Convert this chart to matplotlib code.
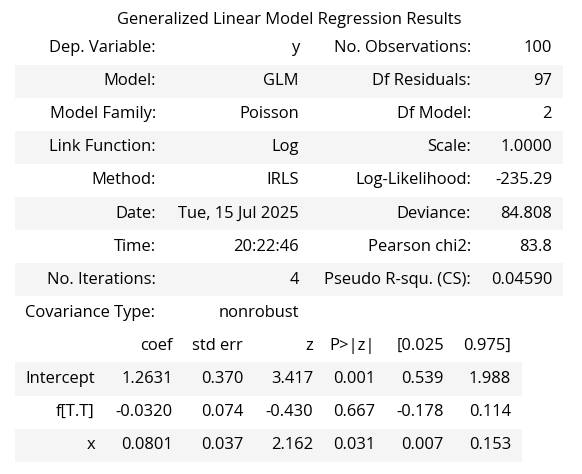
import matplotlib.pyplot as plt
from matplotlib.patches import Rectangle

plt.rcParams['font.family'] = ['Open Sans', 'DejaVu Sans']

# Summary table data
title = "Generalized Linear Model Regression Results"
left_labels = ["Dep. Variable:", "Model:", "Model Family:", "Link Function:",
               "Method:", "Date:", "Time:", "No. Iterations:"]
left_values = ["y", "GLM", "Poisson", "Log", "IRLS", "Tue, 15 Jul 2025",
               "20:22:46", "4"]
right_labels = ["No. Observations:", "Df Residuals:", "Df Model:", "Scale:",
                "Log-Likelihood:", "Deviance:", "Pearson chi2:",
                "Pseudo R-squ. (CS):"]
right_values = ["100", "97", "2", "1.0000", "-235.29", "84.808", "83.8",
                "0.04590"]
cov_label = "Covariance Type:"
cov_value = "nonrobust"

coef_header = ["coef", "std err", "z", "P>|z|", "[0.025", "0.975]"]
coef_names = ["Intercept", "f[T.T]", "x"]
coef_values = [
    ["1.2631", "0.370", "3.417", "0.001", "0.539", "1.988"],
    ["-0.0320", "0.074", "-0.430", "0.667", "-0.178", "0.114"],
    ["0.0801", "0.037", "2.162", "0.031", "0.007", "0.153"],
]

W, H = 582, 474
fig = plt.figure(figsize=(W / 100, H / 100), dpi=100)
ax = fig.add_axes([0, 0, 1, 1])
ax.set_xlim(0, W)
ax.set_ylim(H, 0)
ax.axis('off')

fs = 11.9
band = '#f5f5f5'
ink = '#000000'
row_h = 33.1

ax.text(289, 20, title, ha='center', va='center', fontsize=fs, color=ink)

# first block
y0 = 48
for i in range(len(left_labels)):
    y = y0 + i * row_h
    if i % 2 == 1:
        ax.add_patch(Rectangle((15, y - row_h / 2), 548, row_h, color=band, lw=0))
    ax.text(156, y, left_labels[i], ha='right', va='center', fontsize=fs, color=ink)
    ax.text(299, y, left_values[i], ha='right', va='center', fontsize=fs, color=ink)
    ax.text(471, y, right_labels[i], ha='right', va='center', fontsize=fs, color=ink)
    ax.text(552, y, right_values[i], ha='right', va='center', fontsize=fs, color=ink)

y = y0 + len(left_labels) * row_h
ax.text(25, y, cov_label, ha='left', va='center', fontsize=fs, color=ink)
ax.text(299, y, cov_value, ha='right', va='center', fontsize=fs, color=ink)

# coefficient block
col_right = [173, 243, 313, 375, 444, 511]
yh = y + row_h
for j, h in enumerate(coef_header):
    ax.text(col_right[j], yh, h, ha='right', va='center', fontsize=fs, color=ink)

for i, name in enumerate(coef_names):
    y = yh + (i + 1) * row_h
    if i % 2 == 0:
        ax.add_patch(Rectangle((15, y - row_h / 2), 507, row_h, color=band, lw=0))
    ax.text(95, y, name, ha='right', va='center', fontsize=fs, color=ink)
    for j, v in enumerate(coef_values[i]):
        ax.text(col_right[j], y, v, ha='right', va='center', fontsize=fs, color=ink)

fig.savefig("out.png", dpi=100)
